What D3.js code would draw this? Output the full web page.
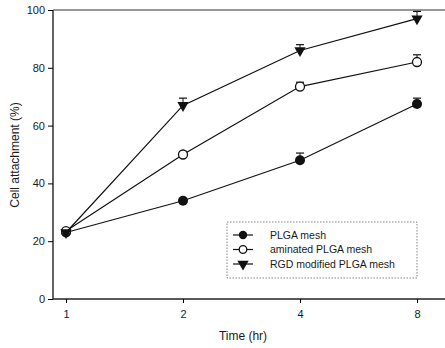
<!DOCTYPE html>
<html>
<head>
<meta charset="utf-8">
<script src="https://cdn.jsdelivr.net/npm/d3@7"></script>
<style>
  body { margin: 0; background: #fff; }
  text { font-family: "Liberation Sans", Arial, sans-serif; fill: #1a1a1a; }
</style>
</head>
<body>
<script>
const times = [1, 2, 4, 8];
const yTicks = [0, 20, 40, 60, 80, 100];
const plga = [23, 34, 48, 67.5];
const plgaErr = [0, 0, 2.5, 2];
const aminated = [23.5, 50, 73.5, 82];
const aminatedErr = [0, 1, 1.5, 2.5];
const rgd = [23, 67, 86, 97];
const rgdErr = [0, 2.5, 2, 2.5];
const seriesNames = ["PLGA mesh", "aminated PLGA mesh", "RGD modified PLGA mesh"];

const svgWidth = 445;
const svgHeight = 348;

const svg = d3.select("body").append("svg")
    .attr("width", svgWidth)
    .attr("height", svgHeight);

const scaleX = d3.scaleLog().base(2)
    .domain([1, 8])
    .range([66, 417]);

const scaleY = d3.scaleLinear()
    .domain([0, 100])
    .range([299, 10]);

const left = 53, right = 445;

// frame lines
svg.append("line")
    .attr("x1", left).attr("x2", right)
    .attr("y1", scaleY(100)).attr("y2", scaleY(100))
    .attr("stroke", "#333").attr("stroke-width", 1.2);
svg.append("line")
    .attr("x1", left).attr("x2", right)
    .attr("y1", scaleY(0)).attr("y2", scaleY(0))
    .attr("stroke", "#222").attr("stroke-width", 1.4);
svg.append("line")
    .attr("x1", left).attr("x2", left)
    .attr("y1", scaleY(0)).attr("y2", scaleY(100))
    .attr("stroke", "#222").attr("stroke-width", 1.4);

const xAxis = svg.append("g")
    .attr("transform", `translate(0, ${scaleY(0)})`)
    .call(d3.axisBottom(scaleX).tickValues(times).tickFormat(d3.format("d")).tickSize(4).tickSizeOuter(0));
xAxis.select(".domain").remove();
xAxis.selectAll("text").attr("font-size", 11).attr("dy", "1.1em");

const yAxis = svg.append("g")
    .attr("transform", `translate(${left}, 0)`)
    .call(d3.axisLeft(scaleY).tickValues(yTicks).tickSize(5).tickSizeOuter(0));
yAxis.select(".domain").remove();
yAxis.selectAll("text").attr("font-size", 11).attr("x", -8);

svg.append("text")
    .attr("x", 243).attr("y", 340)
    .attr("text-anchor", "middle")
    .attr("font-size", 12)
    .text("Time (hr)");

svg.append("text")
    .attr("transform", "translate(19, 155) rotate(-90)")
    .attr("text-anchor", "middle")
    .attr("font-size", 12)
    .text("Cell attachment (%)");

const series = [
    {vals: plga, err: plgaErr, marker: "filled"},
    {vals: aminated, err: aminatedErr, marker: "open"},
    {vals: rgd, err: rgdErr, marker: "tri"}
];

const line = d3.line()
    .x((d, i) => scaleX(times[i]))
    .y(d => scaleY(d));

const triPath = d3.symbol().type(d3.symbolTriangle).size(55)();

function drawMarker(g, type, x, y, r) {
    if (type === "filled") {
        g.append("circle").attr("cx", x).attr("cy", y).attr("r", r || 5)
            .attr("fill", "#111");
    } else if (type === "open") {
        g.append("circle").attr("cx", x).attr("cy", y).attr("r", r || 4.5)
            .attr("fill", "#fff").attr("stroke", "#111").attr("stroke-width", 1.3);
    } else {
        g.append("path").attr("d", triPath)
            .attr("transform", `translate(${x}, ${y}) rotate(180)`)
            .attr("fill", "#111");
    }
}

const gData = svg.append("g");
series.forEach(s => {
    gData.append("path")
        .attr("d", line(s.vals))
        .attr("fill", "none")
        .attr("stroke", "#111")
        .attr("stroke-width", 1.2);
    s.vals.forEach((v, i) => {
        if (s.err[i] > 0) {
            const x = scaleX(times[i]);
            gData.append("line")
                .attr("x1", x).attr("x2", x)
                .attr("y1", scaleY(v)).attr("y2", scaleY(v + s.err[i]))
                .attr("stroke", "#111").attr("stroke-width", 1);
            gData.append("line")
                .attr("x1", x - 4).attr("x2", x + 4)
                .attr("y1", scaleY(v + s.err[i])).attr("y2", scaleY(v + s.err[i]))
                .attr("stroke", "#111").attr("stroke-width", 1.2);
        }
    });
    s.vals.forEach((v, i) => drawMarker(gData, s.marker, scaleX(times[i]), scaleY(v)));
});

// legend
const legend = svg.append("g").attr("transform", "translate(227, 222)");
legend.append("rect")
    .attr("width", 190).attr("height", 56)
    .attr("fill", "#fff")
    .attr("stroke", "#666")
    .attr("stroke-dasharray", "1.5,1.5")
    .attr("stroke-width", 0.8);
seriesNames.forEach((name, i) => {
    const y = 13 + i * 14.5;
    legend.append("line")
        .attr("x1", 6).attr("x2", 26)
        .attr("y1", y).attr("y2", y)
        .attr("stroke", "#111").attr("stroke-width", 1.2);
    drawMarker(legend, series[i].marker, 16, y, series[i].marker === "open" ? 3.8 : 4.2);
    legend.append("text")
        .attr("x", 43).attr("y", y)
        .attr("dy", "0.35em")
        .attr("font-size", 10.5)
        .text(name);
});
</script>
</body>
</html>
